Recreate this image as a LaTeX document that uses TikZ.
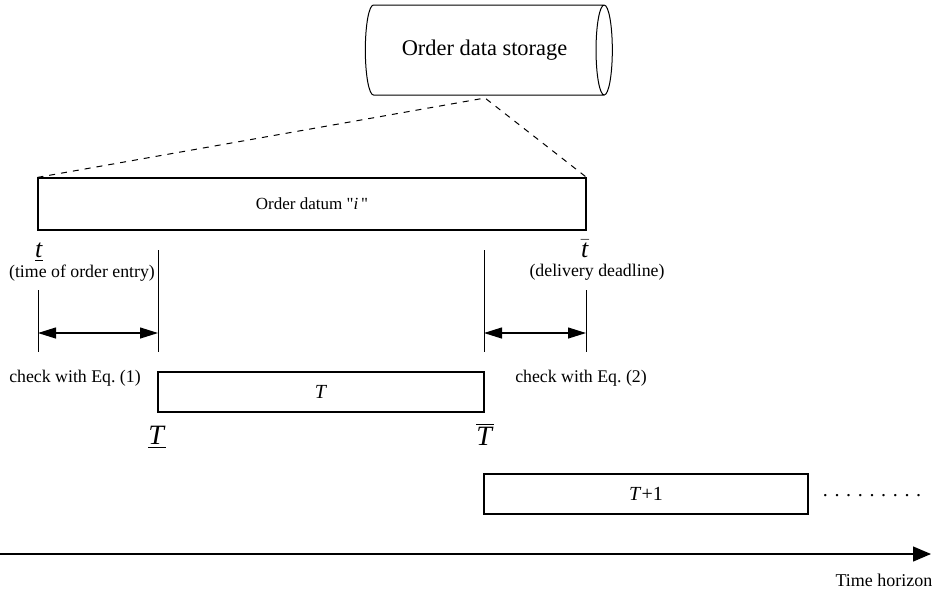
\documentclass[tikz,border=0pt]{standalone}
\usepackage{fontspec}
\setmainfont{Liberation Serif}
\newfontfamily\plainquote{Liberation Serif}[Ligatures=TeXOff]
\usetikzlibrary{shapes.geometric,arrows.meta}

\tikzset{
  box/.style={draw, line width=.6pt, inner sep=0pt},
  tick/.style={line width=.5pt},
  span/.style={line width=.6pt, {Triangle[length=9pt,width=5.5pt]}-{Triangle[length=9pt,width=5.5pt]}},
  note/.style={inner sep=0pt, font=\fontsize{8.9}{10}\selectfont},
}

\begin{document}
\begin{tikzpicture}[x=.5pt,y=-.5pt]
   \useasboundingbox (0,0) rectangle (937,591);

   % storage and the datum it holds
   \node[cylinder, draw, line width=.5pt, shape aspect=.8, minimum width=45pt, minimum height=123.5pt,
         inner sep=0pt, font=\fontsize{11.2}{13}\selectfont] (store) at (484.5,50) {Order data storage};
   \coordinate (apex) at (485,98);
   \node[box, minimum width=274pt, minimum height=26pt, font=\fontsize{8.5}{10}\selectfont] (datum) at (312,204) {Order datum {\plainquote"}\textit{i}\,{\plainquote"}};
   \draw[dashed, line width=.5pt] (datum.north west) -- (apex) -- (datum.north east);

   % time marks
   \draw[tick] (38,290) -- (38,352);
   \draw[tick] (158,250) -- (158,352);
   \draw[tick] (484,250) -- (484,352);
   \draw[tick] (586,290) -- (586,352);

   \node[inner sep=0pt, font=\fontsize{13}{14}\selectfont] (tlow) at (39,252) {\underline{\textit{t}}};
   \node[note] (entry) at (82,273) {(time of order entry)};
   \node[inner sep=0pt, font=\fontsize{13}{14}\selectfont] (tup) at (585,249) {$\bar{\mbox{\textit{t}}}$};
   \node[note] (deadline) at (597,272) {(delivery deadline)};

   \coordinate (a1) at (38,333);
   \coordinate (a2) at (158,333);
   \coordinate (b1) at (484,333);
   \coordinate (b2) at (586,333);
   \draw[span] (a1) -- (a2);
   \draw[span] (b1) -- (b2);

   \node[note] (eq1) at (75,378) {check with Eq.\ (1)};
   \node[note] (eq2) at (581,378) {check with Eq.\ (2)};

   % periods
   \node[box, minimum width=163pt, minimum height=20pt, font=\fontsize{10}{12}\selectfont] (P) at (321,392) {\textit{T}};
   \node[inner sep=0pt, font=\fontsize{14}{16}\selectfont] (Plow) at (157,437) {\underline{\textit{T}}};
   \node[inner sep=0pt, font=\fontsize{14}{16}\selectfont] (Pup) at (485,434) {$\overline{\mbox{\textit{T}}}$};

   \node[box, minimum width=162pt, minimum height=20pt, font=\fontsize{10}{12}\selectfont] (Pnext) at (646,494) {\textit{T}+1};
   \node[inner sep=0pt, font=\fontsize{10}{12}\selectfont] (dots) at (872,496) {. . . . . . . . .};

   % time axis
   \coordinate (t0) at (0,554);
   \coordinate (t1) at (931,554);
   \draw[line width=.6pt, -{Triangle[length=9pt,width=7.5pt]}] (t0) -- (t1);
   \node[note, font=\fontsize{9}{10}\selectfont] (horizon) at (884,580) {Time horizon};

\end{tikzpicture}
\end{document}
